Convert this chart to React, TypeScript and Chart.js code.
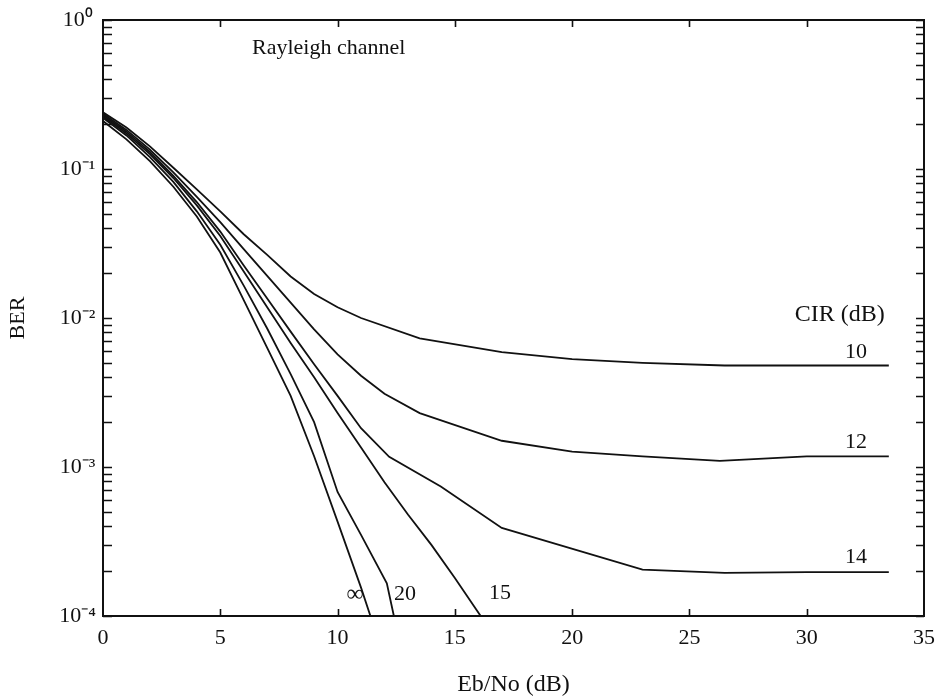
import React, { useEffect, useRef } from 'react';
import { Chart, registerables } from 'chart.js';

Chart.register(...registerables);

// ---- data ----
const cir10X = [0, 1, 2, 3, 4, 5, 6, 7, 8, 9, 10, 11, 13.5, 17, 20, 23, 26.5, 30, 33.5];
const cir10Y = [0.24, 0.19, 0.142, 0.102, 0.073, 0.052, 0.0365, 0.0265, 0.019, 0.0145, 0.0118, 0.01, 0.0073, 0.0059, 0.0053, 0.005, 0.0048, 0.0048, 0.0048];

const cir12X = [0, 1, 2, 3, 4, 5, 6, 7, 8, 9, 10, 11, 12, 13.5, 17, 20, 23, 26.3, 30, 33.5];
const cir12Y = [0.235, 0.183, 0.135, 0.095, 0.065, 0.044, 0.029, 0.0192, 0.0127, 0.0084, 0.0057, 0.0041, 0.0031, 0.0023, 0.0015, 0.00127, 0.00118, 0.0011, 0.00118, 0.00118];

const cir14X = [0, 1, 2, 3, 4, 5, 6, 7, 8, 9, 10, 11, 12.2, 14.4, 17, 23, 26.5, 30, 33.5];
const cir14Y = [0.23, 0.178, 0.13, 0.09, 0.06, 0.038, 0.0225, 0.0135, 0.0081, 0.0049, 0.003, 0.00182, 0.00117, 0.00074, 0.00039, 0.000205, 0.000195, 0.000197, 0.000197];

const cir15X = [0, 1, 2, 3, 4, 5, 6, 7, 8, 9, 10, 11, 12, 13, 14, 15, 16.1];
const cir15Y = [0.225, 0.173, 0.126, 0.087, 0.057, 0.0355, 0.0205, 0.0118, 0.0068, 0.004, 0.0023, 0.00135, 0.00079, 0.00048, 0.0003, 0.00018, 0.0001];

const cir20X = [0, 1, 2, 3, 4, 5, 6, 7, 8, 9, 10, 11, 12.1, 12.4];
const cir20Y = [0.22, 0.168, 0.12, 0.082, 0.052, 0.031, 0.0165, 0.0085, 0.0042, 0.002, 0.00068, 0.00035, 0.000166, 0.0001];

const cirInfX = [0, 1, 2, 3, 4, 5, 6, 7, 8, 9, 10, 11, 11.4];
const cirInfY = [0.21, 0.158, 0.113, 0.076, 0.048, 0.0275, 0.0132, 0.0063, 0.003, 0.00118, 0.00043, 0.000155, 0.0001];

const yMajorTicks = [1e-4, 1e-3, 1e-2, 1e-1, 1];
const yTickLabels = ['10⁻⁴', '10⁻³', '10⁻²', '10⁻¹', '10⁰'];
const xMajorTicks = [0, 5, 10, 15, 20, 25, 30, 35];

// annotation texts, placed in data space
const noteTexts = ['Rayleigh channel', 'CIR (dB)', '10', '12', '14', '∞', '20', '15'];
const noteX = [6.35, 33.33, 32.57, 32.57, 32.57, 10.74, 12.87, 16.92];
const noteY = [0.65, 0.0106, 0.0059, 0.00147, 0.000249, 0.000138, 0.000141, 0.000142];
const noteAlign = ['left', 'right', 'right', 'right', 'right', 'center', 'center', 'center'];
const noteSize = [22, 24, 22, 22, 22, 24, 22, 22];

const SERIF = "'Liberation Serif', 'Times New Roman', serif";
const INK = '#111111';

const toPoints = (xs: number[], ys: number[]) => xs.map((x, i) => ({ x, y: ys[i] }));

const framePlugin = {
  id: 'frameTicks',
  afterDatasetsDraw(chart: any) {
    const { ctx, chartArea } = chart;
    const { left, right, top, bottom } = chartArea;
    const xs = chart.scales.x;
    const ys = chart.scales.y;
    ctx.save();
    ctx.strokeStyle = INK;
    ctx.lineWidth = 2;
    ctx.strokeRect(left, top, right - left, bottom - top);
    ctx.lineWidth = 1.6;
    ctx.beginPath();
    for (let e = -4; e <= 0; e++) {
      for (let m = 1; m <= 9; m++) {
        const v = m * Math.pow(10, e);
        if (v > 1.0001) break;
        const py = Math.round(ys.getPixelForValue(v)) + 0.5;
        ctx.moveTo(left, py);
        ctx.lineTo(left + 9, py);
        ctx.moveTo(right, py);
        ctx.lineTo(right - 8, py);
      }
    }
    xMajorTicks.forEach((v) => {
      if (v <= 0 || v >= 35) return;
      const px = Math.round(xs.getPixelForValue(v)) + 0.5;
      ctx.moveTo(px, bottom);
      ctx.lineTo(px, bottom - 7);
      ctx.moveTo(px, top);
      ctx.lineTo(px, top + 7);
    });
    ctx.stroke();

    // annotation labels
    ctx.fillStyle = INK;
    ctx.textBaseline = 'middle';
    noteTexts.forEach((t, i) => {
      ctx.font = `${noteSize[i]}px ${SERIF}`;
      ctx.textAlign = noteAlign[i] as CanvasTextAlign;
      ctx.fillText(t, xs.getPixelForValue(noteX[i]), ys.getPixelForValue(noteY[i]));
    });
    ctx.restore();
  },
};

export default function App() {
  const ref = useRef<HTMLCanvasElement | null>(null);

  useEffect(() => {
    document.body.style.margin = '0';
    document.body.style.overflow = 'hidden';
    const canvas = ref.current;
    if (!canvas) return;
    const line = (xs: number[], ys: number[], label: string) => ({
      label,
      data: toPoints(xs, ys),
      borderColor: INK,
      borderWidth: 1.8,
      pointRadius: 0,
      tension: 0,
      fill: false,
    });
    const chart = new Chart(canvas, {
      type: 'line',
      data: {
        datasets: [
          line(cir10X, cir10Y, 'CIR 10'),
          line(cir12X, cir12Y, 'CIR 12'),
          line(cir14X, cir14Y, 'CIR 14'),
          line(cir15X, cir15Y, 'CIR 15'),
          line(cir20X, cir20Y, 'CIR 20'),
          line(cirInfX, cirInfY, 'CIR ∞'),
        ],
      },
      options: {
        animation: false,
        responsive: false,
        maintainAspectRatio: false,
        layout: { padding: { top: 20, right: 14, left: 0, bottom: 0 } },
        plugins: { legend: { display: false }, tooltip: { enabled: false } },
        scales: {
          x: {
            type: 'linear',
            min: 0,
            max: 35,
            afterBuildTicks: (s: any) => {
              s.ticks = xMajorTicks.map((v) => ({ value: v }));
            },
            grid: { display: false, drawTicks: false },
            border: { display: false },
            ticks: {
              padding: 9,
              color: INK,
              autoSkip: false,
              maxRotation: 0,
              font: { family: SERIF, size: 22 },
            },
            title: {
              display: true,
              text: 'Eb/No (dB)',
              color: INK,
              font: { family: SERIF, size: 24, lineHeight: 1 },
              padding: { top: 0, bottom: 0 },
            },
            afterFit: (s: any) => {
              s.height = 81;
              s.paddingLeft = 0;
              s.paddingRight = 0;
            },
          },
          y: {
            type: 'logarithmic',
            min: 1e-4,
            max: 1,
            afterBuildTicks: (s: any) => {
              s.ticks = yMajorTicks.map((v) => ({ value: v }));
            },
            grid: { display: false, drawTicks: false },
            border: { display: false },
            ticks: {
              padding: 7,
              color: INK,
              autoSkip: false,
              crossAlign: 'center',
              font: { family: SERIF, size: 22 },
              callback: (v: any) => {
                const i = yMajorTicks.findIndex((t) => Math.abs(t - Number(v)) / t < 1e-6);
                return i >= 0 ? yTickLabels[i] : '';
              },
            },
            title: {
              display: true,
              text: 'BER',
              color: INK,
              font: { family: SERIF, size: 22 },
              padding: { top: 5, bottom: 0 },
            },
            afterFit: (s: any) => {
              s.width = 103;
              s.paddingTop = 0;
              s.paddingBottom = 0;
            },
          },
        },
      },
      plugins: [framePlugin],
    });
    return () => chart.destroy();
  }, []);

  return (
    <div style={{ width: 938, height: 697, background: '#fff' }}>
      <canvas ref={ref} width={938} height={697} style={{ display: 'block' }} />
    </div>
  );
}
